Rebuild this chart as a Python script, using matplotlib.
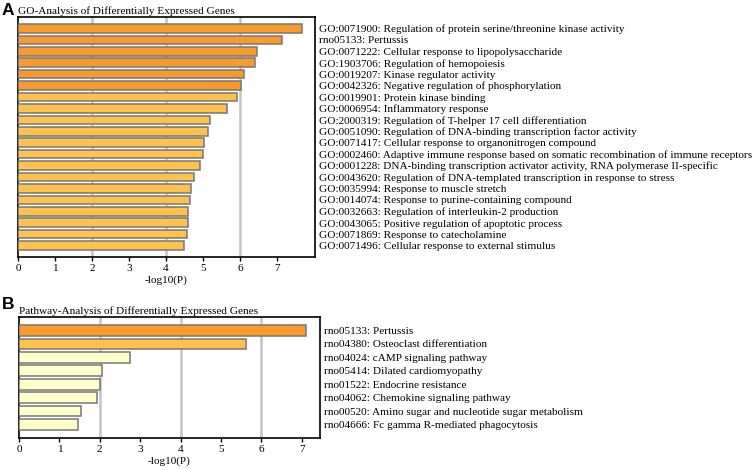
import matplotlib.pyplot as plt

# --------------- data ---------------

go_terms = [
    "GO:0071900: Regulation of protein serine/threonine kinase activity",
    "rno05133: Pertussis",
    "GO:0071222: Cellular response to lipopolysaccharide",
    "GO:1903706: Regulation of hemopoiesis",
    "GO:0019207: Kinase regulator activity",
    "GO:0042326: Negative regulation of phosphorylation",
    "GO:0019901: Protein kinase binding",
    "GO:0006954: Inflammatory response",
    "GO:2000319: Regulation of T-helper 17 cell differentiation",
    "GO:0051090: Regulation of DNA-binding transcription factor activity",
    "GO:0071417: Cellular response to organonitrogen compound",
    "GO:0002460: Adaptive immune response based on somatic recombination of immune receptors",
    "GO:0001228: DNA-binding transcription activator activity, RNA polymerase II-specific",
    "GO:0043620: Regulation of DNA-templated transcription in response to stress",
    "GO:0035994: Response to muscle stretch",
    "GO:0014074: Response to purine-containing compound",
    "GO:0032663: Regulation of interleukin-2 production",
    "GO:0043065: Positive regulation of apoptotic process",
    "GO:0071869: Response to catecholamine",
    "GO:0071496: Cellular response to external stimulus",
]
go_logp = [7.67, 7.13, 6.45, 6.40, 6.10, 6.04, 5.93, 5.66, 5.18, 5.14,
           5.02, 5.01, 4.91, 4.75, 4.67, 4.66, 4.61, 4.59, 4.56, 4.49]

kegg_terms = [
    "rno05133: Pertussis",
    "rno04380: Osteoclast differentiation",
    "rno04024: cAMP signaling pathway",
    "rno05414: Dilated cardiomyopathy",
    "rno01522: Endocrine resistance",
    "rno04062: Chemokine signaling pathway",
    "rno00520: Amino sugar and nucleotide sugar metabolism",
    "rno04666: Fc gamma R-mediated phagocytosis",
]
kegg_logp = [7.10, 5.62, 2.74, 2.05, 2.00, 1.92, 1.53, 1.46]

dark_orange = '#fb9a2c'
light_orange = '#ffc24e'
pale_yellow = '#ffffcc'


def bar_colour(v):
    if v >= 6:
        return dark_orange
    if v >= 3:
        return light_orange
    return pale_yellow


plt.rcParams['font.family'] = 'Liberation Serif'
fs = 8.1


def draw_panel(ax, terms, values, xmax, bar_h, title):
    ypos = list(range(len(terms)))
    ax.barh(ypos, values, height=bar_h, color=[bar_colour(v) for v in values],
            edgecolor='#777777', linewidth=1.1, zorder=3)
    ax.set_xlim(0, xmax)
    ax.set_ylim(len(terms), -1)
    for g in [2, 4, 6]:
        ax.axvline(g, color='#c4c4c4', linewidth=1.8, zorder=1)
    ax.set_xticks(range(0, 8))
    ax.tick_params(axis='x', direction='out', length=3, width=1, labelsize=fs, pad=2)
    ax.yaxis.tick_right()
    ax.set_yticks(ypos)
    ax.set_yticklabels(terms, fontsize=fs)
    ax.tick_params(axis='y', length=0, pad=3)
    for s in ax.spines.values():
        s.set_linewidth(1.2)
    ax.set_xlabel('-log10(P)', fontsize=fs, labelpad=2)
    ax.set_title(title, loc='left', fontsize=fs, pad=2.5)


fig = plt.figure(figsize=(7.53, 4.70), dpi=100)

ax_a = fig.add_axes([0.0239, 0.4532, 0.3944, 0.5106])
draw_panel(ax_a, go_terms, go_logp, 8.03, 0.75,
           'GO-Analysis of Differentially Expressed Genes')

ax_b = fig.add_axes([0.0252, 0.0681, 0.3997, 0.2574])
draw_panel(ax_b, kegg_terms, kegg_logp, 7.45, 0.8,
           'Pathway-Analysis of Differentially Expressed Genes')

fig.text(0.002, 0.977, 'A', fontsize=12.5, fontweight='bold', family='Liberation Sans', va='center')
fig.text(0.002, 0.352, 'B', fontsize=12.5, fontweight='bold', family='Liberation Sans', va='center')

plt.savefig('out.png', dpi=100)
